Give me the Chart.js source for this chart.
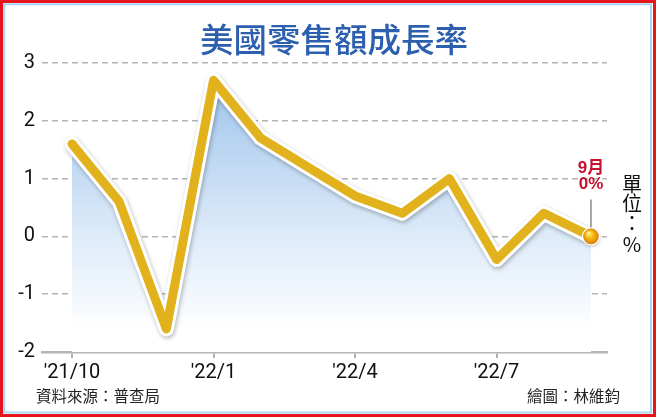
<!DOCTYPE html>
<html><head><meta charset="utf-8">
<script src="https://cdn.jsdelivr.net/npm/chart.js@4/dist/chart.umd.min.js"></script>
<style>html,body{margin:0;padding:0;background:#fff;}#wrap{width:656px;height:417px;}</style>
</head><body><div id="wrap"><canvas id="c" width="656" height="417"></canvas></div>
<script>
const titleText = '美國零售額成長率';
const categories = ["'21/10","'21/11","'21/12","'22/1","'22/2","'22/3","'22/4","'22/5","'22/6","'22/7","'22/8","'22/9"];
const growth = [1.6, 0.6, -1.6, 2.7, 1.7, 1.2, 0.7, 0.4, 1.0, -0.4, 0.4, 0];
const yTicks = [-2, -1, 0, 1, 2, 3];
const xTickIndex = [0, 3, 6, 9];
const lastLabel = ['9月', '0%'];
const unitLabel = ['單', '位', '：', '%'];
const sourceText = '資料來源：普查局';
const creditText = '繪圖：林維鈞';

const makePoints = () => growth.map((v, i) => ({x: i, y: v}));
const lastIndex = growth.length - 1;

const deco = {
  id: 'deco',
  beforeDraw(chart) {
    const ctx = chart.ctx;
    ctx.save();
    ctx.fillStyle = '#fff';
    ctx.fillRect(0, 0, chart.width, chart.height);
    ctx.restore();
  },
  beforeDatasetDraw(chart, args) {
    if (args.index === 1) {
      const ctx = chart.ctx;
      ctx.save();
      ctx.shadowColor = 'rgba(0,0,0,0.28)';
      ctx.shadowBlur = 4;
      ctx.shadowOffsetX = 1;
      ctx.shadowOffsetY = 2;
    }
  },
  afterDatasetDraw(chart, args) {
    if (args.index === 1) chart.ctx.restore();
  },
  afterDatasetsDraw(chart) {
    const ctx = chart.ctx;
    const pt = chart.getDatasetMeta(0).data[lastIndex];
    const x = pt.x, y = pt.y;
    ctx.save();
    ctx.strokeStyle = '#8a8a8a';
    ctx.lineWidth = 1.5;
    ctx.beginPath();
    ctx.moveTo(x, y - 9);
    ctx.lineTo(x, y - 37);
    ctx.stroke();
    ctx.beginPath();
    ctx.arc(x, y, 9, 0, Math.PI * 2);
    ctx.fillStyle = '#fff';
    ctx.fill();
    const g = ctx.createRadialGradient(x - 2.5, y - 3.5, 0.5, x, y, 8);
    g.addColorStop(0, '#fff1a0');
    g.addColorStop(0.35, '#f6c81f');
    g.addColorStop(1, '#dd7a00');
    ctx.beginPath();
    ctx.arc(x, y, 7.8, 0, Math.PI * 2);
    ctx.fillStyle = g;
    ctx.fill();
    ctx.fillStyle = '#c8102e';
    ctx.font = 'bold 17px "Liberation Sans", "Noto Sans CJK TC", sans-serif';
    ctx.textAlign = 'center';
    ctx.textBaseline = 'middle';
    ctx.fillText(lastLabel[0], x, y - 68);
    ctx.fillText(lastLabel[1], x, y - 52);
    ctx.restore();
  },
  afterDraw(chart) {
    const ctx = chart.ctx;
    ctx.save();
    ctx.fillStyle = '#2c5fae';
    ctx.font = '500 33.5px "Noto Sans CJK TC", sans-serif';
    ctx.textAlign = 'center';
    ctx.textBaseline = 'middle';
    ctx.fillText(titleText, 334, 39);
    ctx.fillStyle = '#111';
    ctx.font = '20px "Noto Sans CJK TC", sans-serif';
    const uy = [184.5, 203, 223, 244.5];
    unitLabel.forEach((t, i) => ctx.fillText(t, 632, uy[i]));
    ctx.fillStyle = '#222';
    ctx.font = '15.5px "Noto Sans CJK TC", sans-serif';
    ctx.textAlign = 'left';
    ctx.fillText(sourceText, 36, 396);
    ctx.textAlign = 'right';
    ctx.fillText(creditText, 620, 396);
    ctx.strokeStyle = '#e8141b';
    ctx.lineWidth = 3;
    ctx.strokeRect(1.5, 1.5, 653, 414);
    ctx.strokeStyle = '#a9d5f2';
    ctx.lineWidth = 2;
    ctx.strokeRect(4.3, 4.3, 646.7, 408.2);
    ctx.restore();
  }
};

function fillGradient(c) {
  const ca = c.chart.chartArea;
  if (!ca) return 'rgba(160,200,240,0.5)';
  const g = c.chart.ctx.createLinearGradient(0, ca.top, 0, ca.bottom - 20);
  g.addColorStop(0, '#98c0ea');
  g.addColorStop(0.6, '#d9e8f8');
  g.addColorStop(1, 'rgba(255,255,255,1)');
  return g;
}

new Chart(document.getElementById('c'), {
  type: 'line',
  data: {
    datasets: [
      {
        data: makePoints(),
        borderColor: '#e2b21d',
        borderWidth: 9,
        borderJoinStyle: 'round',
        borderCapStyle: 'round',
        pointRadius: 0,
        tension: 0,
        fill: false
      },
      {
        data: makePoints(),
        borderColor: '#ffffff',
        borderWidth: 15,
        borderJoinStyle: 'round',
        borderCapStyle: 'round',
        pointRadius: 0,
        tension: 0,
        fill: 'start',
        backgroundColor: fillGradient
      }
    ]
  },
  options: {
    responsive: false,
    devicePixelRatio: 1,
    animation: false,
    layout: {padding: {top: 63, left: 0, right: 49, bottom: 28}},
    plugins: {
      legend: {display: false},
      tooltip: {enabled: false},
      filler: {drawTime: 'beforeDatasetsDraw'}
    },
    scales: {
      x: {
        type: 'linear',
        min: -0.636,
        max: 11.34,
        afterBuildTicks: s => { s.ticks = xTickIndex.map(v => ({value: v})); },
        afterFit: s => { s.height = 37; },
        ticks: {
          callback: v => categories[v],
          font: {family: 'Roboto', size: 20},
          color: '#111',
          padding: 3,
          maxRotation: 0,
          autoSkip: false
        },
        grid: {drawOnChartArea: false, drawTicks: true, tickLength: 6, color: '#b0b0b0', lineWidth: 2},
        border: {color: '#b5b5b5', width: 2.5}
      },
      y: {
        min: -2,
        max: 3,
        afterBuildTicks: s => { s.ticks = yTicks.map(v => ({value: v})); },
        afterFit: s => { s.width = 42; },
        ticks: {
          font: {family: 'Roboto', size: 20},
          color: '#111',
          padding: 7
        },
        grid: {
          drawTicks: false,
          lineWidth: 1.5,
          color: c => (c.tick && c.tick.value === -2) ? 'rgba(0,0,0,0)' : '#b3b3b3'
        },
        border: {display: false, dash: [6, 4]}
      }
    }
  },
  plugins: [deco]
});
</script>
</body></html>
